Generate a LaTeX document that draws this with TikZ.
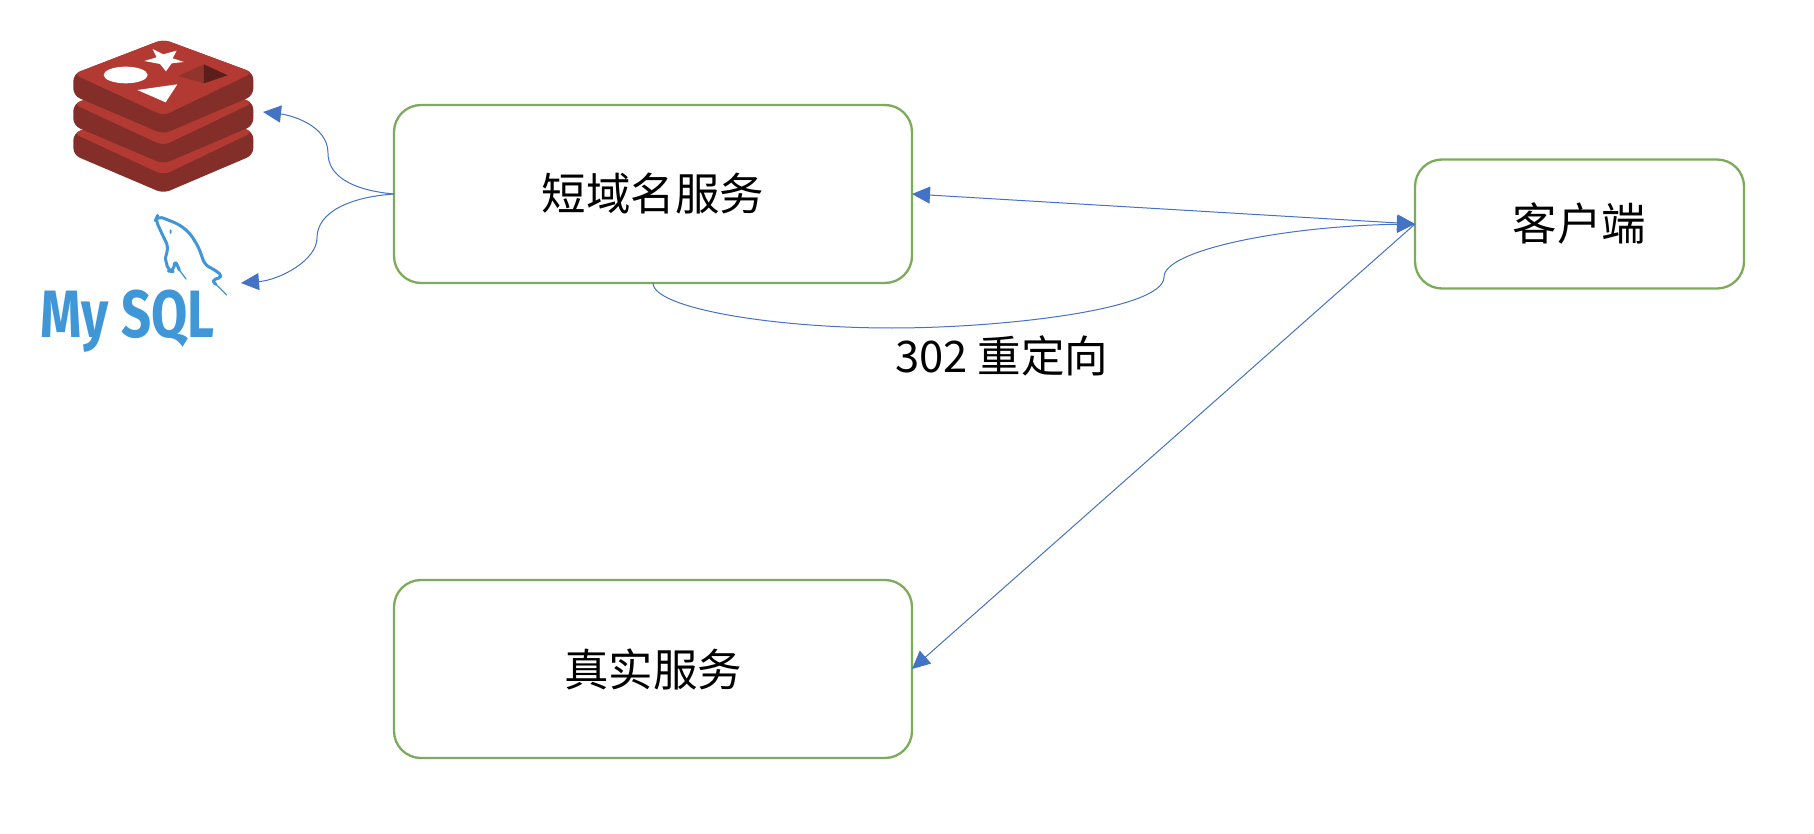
\documentclass[tikz,border=0pt]{standalone}
\usepackage{fontspec}
\setmainfont{Noto Sans CJK SC}
\newfontfamily\logofont{Fira Sans}
\usetikzlibrary{arrows.meta}
\definecolor{boxgreen}{HTML}{7DAB5B}
\definecolor{linkblue}{HTML}{4472C4}
\definecolor{redisface}{HTML}{B33A32}
\definecolor{redisside}{HTML}{832E29}
\definecolor{redishole}{HTML}{8F352E}
\definecolor{redisdeep}{HTML}{5C1E1A}
\definecolor{mysqlblue}{HTML}{3F97D8}
\tikzset{
  svcbox/.style={draw=boxgreen,line width=2.3pt,rounded corners=27pt,fill=white,outer sep=0pt,inner sep=0pt,font=\fontsize{44.5}{50}\selectfont},
  link/.style={draw=linkblue,line width=1pt},
  tipend/.style={-{Triangle[length=18pt,width=17pt,color=linkblue]}},
  tipboth/.style={{Triangle[length=18pt,width=17pt,color=linkblue]}-{Triangle[length=18pt,width=17pt,color=linkblue]}},
  label302/.style={inner sep=0pt,font=\fontsize{43.5}{50}\selectfont}
}
\newcommand{\redislayer}[1]{%
  \fill[redisside,rounded corners=7pt] (220,222+#1) -- (220,287+#1) -- (490,402+#1) -- (760,287+#1) -- (760,218+#1) -- (490,118+#1) -- cycle;
  \fill[redisface,rounded corners=7pt] (490,118+#1) -- (760,218+#1) -- (490,347+#1) -- (220,222+#1) -- cycle;
}
\begin{document}
\begin{tikzpicture}[x=1pt,y=-1pt]
\useasboundingbox (0,0) rectangle (1814,834);
% Redis logo
\begin{scope}[x=0.3333pt,y=-0.3333pt]
  \redislayer{178}
  \redislayer{90}
  \redislayer{0}
  \fill[white] (377,225) ellipse [x radius=66,y radius=25];
  \fill[white] (458,147) -- (490,163) -- (530,152) -- (518,175) -- (552,186) -- (515,190) -- (498,214) -- (480,192) -- (433,183) -- (470,172) -- cycle;
  \fill[white] (412,270) -- (532,253) -- (497,307) -- cycle;
  \fill[redishole] (535,228) -- (612,193) -- (612,250) -- cycle;
  \fill[redisdeep] (612,193) -- (683,226) -- (612,250) -- cycle;
\end{scope}
% MySQL logo
\begin{scope}[shift={(140,205)},x=0.3333pt,y=-0.3333pt]
  \draw[mysqlblue,line width=3pt,line join=round,line cap=round,rounded corners=5pt]
    (76,160) -- (85,125) -- (70,95) -- (47,45) -- (52,33) -- (85,45) -- (120,60) -- (150,85) -- (175,125) -- (195,180) -- (225,195) -- (250,215) -- (212,227) -- (228,238);
  \draw[mysqlblue,line width=3pt,line join=round,line cap=round,rounded corners=5pt]
    (76,160) -- (85,198) -- (100,200) -- (105,165) -- (118,195);
  \draw[mysqlblue,line width=1.3pt,line cap=round] (118,195) -- (138,222);
  \draw[mysqlblue,line width=1.3pt,line cap=round] (228,238) -- (260,270);
  \fill[mysqlblue] (92,80) ellipse [x radius=3,y radius=7];
\end{scope}
\node[inner sep=0pt,text=mysqlblue,xscale=0.785] (mysqltext) at (127.5,321) {\fontsize{67}{70}\logofont\bfseries My SQL};
% Service boxes
\node[svcbox,minimum width=518pt,minimum height=178pt] (short) at (653,194) {短域名服务};
\node[svcbox,minimum width=518pt,minimum height=178pt] (real) at (653,669) {真实服务};
\node[svcbox,minimum width=329pt,minimum height=129pt] (client) at (1579.5,224) {客户端};
\coordinate (redisend) at (263,112);
\coordinate (mysqlend) at (241,283);
\coordinate (redisbend) at (328,153);
\coordinate (mysqlbend) at (317,238);
\coordinate (lowpoint) at (892,328);
\coordinate (rightbend) at (1164,277);
% Connectors
\draw[link,tipend] (short.west) .. controls +(-44,-4) and +(0,22) .. (redisbend) .. controls +(0,-28) and +(27,3) .. (redisend);
\draw[link,tipend] (short.west) .. controls +(-44,3) and +(0,-26) .. (mysqlbend) .. controls +(0,22) and +(39,-3) .. (mysqlend);
\draw[link,tipboth] (short.east) -- (client.west);
\draw[link,tipend] (short.south) .. controls +(0,25) and +(-120,0) .. (lowpoint) .. controls +(108,0) and +(0,33) .. (rightbend) .. controls +(0,-27) and +(-130,2) .. (client.west);
\draw[link,tipend] (client.west) -- (real.east);
\node[label302] (redirect) at (1002,356) {302 重定向};
\end{tikzpicture}
\end{document}
